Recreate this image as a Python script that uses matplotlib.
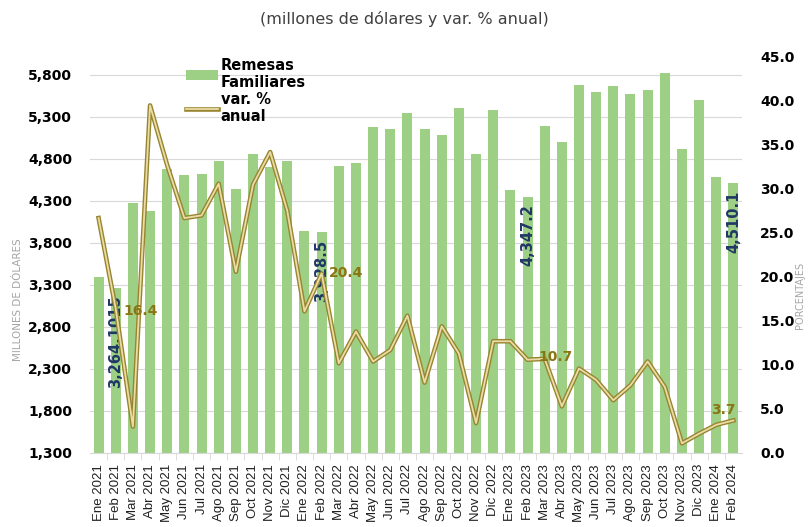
import numpy as np
import matplotlib
matplotlib.use('Agg')
import matplotlib.pyplot as plt
import matplotlib.patheffects as pe

# months Ene 2021 .. Feb 2024
meses = ['Ene', 'Feb', 'Mar', 'Abr', 'May', 'Jun', 'Jul', 'Ago', 'Sep', 'Oct', 'Nov', 'Dic']
etiquetas = [f'{m} {a}' for a in (2021, 2022, 2023) for m in meses] + ['Ene 2024', 'Feb 2024']

remesas = [3392, 3264.1015, 4273, 4173, 4681, 4610, 4618, 4776, 4439, 4856, 4697, 4768,
           3935, 3928.5, 4709, 4749, 5173, 5157, 5344, 5157, 5078, 5403, 4852, 5375,
           4431, 4347.2, 5189, 4999, 5677, 5590, 5669, 5570, 5613, 5820, 4915, 5502,
           4578, 4510.1]

var_anual = [26.7, 16.4, 3.0, 39.5, 32.7, 26.7, 27.0, 30.6, 20.6, 30.5, 34.2, 27.5,
             16.1, 20.4, 10.2, 13.8, 10.4, 11.7, 15.6, 8.0, 14.4, 11.3, 3.4, 12.7,
             12.7, 10.6, 10.7, 5.3, 9.6, 8.3, 6.0, 7.7, 10.4, 7.5, 1.1, 2.2,
             3.2, 3.7]

# indexes that carry data labels
idx_barras = [1, 13, 25, 37]
idx_linea = [1, 13, 26, 37]

x = np.arange(len(etiquetas))

fig = plt.figure(figsize=(8.08, 5.27), dpi=100)
ax = fig.add_axes([90 / 808, 1 - 453 / 527, 652 / 808, 396 / 527])
ax2 = ax.twinx()

ax.bar(x, remesas, width=0.58, color='#9DD085', zorder=2)
ax.set_xlim(-0.5, len(x) - 0.5)
ax.set_ylim(1300, 6010)
ax.set_yticks(range(1300, 5801, 500))
ax.set_yticklabels([f'{v:,}' for v in range(1300, 5801, 500)])
ax.yaxis.grid(True, color='#D9D9D9', linewidth=0.8, zorder=0)
ax.set_axisbelow(True)

ax.set_xticks(x)
ax.set_xticklabels(etiquetas, rotation=90, fontsize=9.5, family='Liberation Sans', color='#202020')
ax.set_xticks(x[:-1] + 0.5, minor=True)
ax.tick_params(axis='x', which='major', length=0, pad=8)
ax.tick_params(axis='x', which='minor', length=5, color='#D9D9D9')
ax.tick_params(axis='y', length=0, pad=13, labelsize=10)
for t in ax.get_yticklabels():
    t.set_fontweight('bold')

for s in ['top', 'right', 'left']:
    ax.spines[s].set_visible(False)
    ax2.spines[s].set_visible(False)
ax.spines['bottom'].set_color('#D9D9D9')
ax2.spines['bottom'].set_visible(False)

line, = ax2.plot(x, var_anual, color='#EADCA6', linewidth=1.3, zorder=3,
                 path_effects=[pe.Stroke(linewidth=3.3, foreground='#97852F'), pe.Normal()])
ax2.set_ylim(0, 45)
ax2.set_yticks(np.arange(0, 45.1, 5))
ax2.set_yticklabels([f'{v:.1f}' for v in np.arange(0, 45.1, 5)])
ax2.tick_params(axis='y', length=0, pad=13, labelsize=10)
for t in ax2.get_yticklabels():
    t.set_fontweight('bold')

# bar labels (vertical, inside top of bar)
for i in idx_barras:
    txt = '3,264.1015' if i == 1 else f'{remesas[i]:,.1f}'
    ax.text(x[i], remesas[i] - 90, txt, rotation=90, ha='center', va='top',
            fontsize=10.5, fontweight='bold', color='#203864', zorder=4)

# line labels
lab_off = {1: (0.45, -0.3, 'left'), 13: (0.45, 0.1, 'left'), 26: (-0.35, 0.2, 'left'),
           37: (0.1, 1.2, 'right')}
for i in idx_linea:
    dx, dy, ha = lab_off[i]
    ax2.text(x[i] + dx, var_anual[i] + dy, f'{var_anual[i]:.1f}', ha=ha, va='center',
             fontsize=10, fontweight='bold', color='#8A7512', zorder=5)

fig.legend(handles=[ax.patches[0], line], labels=['Remesas\nFamiliares', 'var. %\nanual'],
           loc='upper left', bbox_to_anchor=(180 / 808, 1 - 52 / 527), frameon=False,
           prop={'weight': 'bold', 'size': 10.5}, handlelength=2.2, handletextpad=0.2,
           labelspacing=0.1, borderaxespad=0)

fig.text(404 / 808, 1 - 19 / 527, '(millones de dólares y var. % anual)', ha='center', va='center',
         fontsize=11.5, color='#404040')
fig.text(18 / 808, 1 - 300 / 527, 'MILLONES DE DÓLARES', rotation=90, ha='center', va='center',
         fontsize=7.5, color='#A6A6A6')
fig.text(800 / 808, 1 - 295 / 527, 'PORCENTAJES', rotation=90, ha='center', va='center',
         fontsize=7, color='#A6A6A6')

fig.savefig('out.png', dpi=100)
